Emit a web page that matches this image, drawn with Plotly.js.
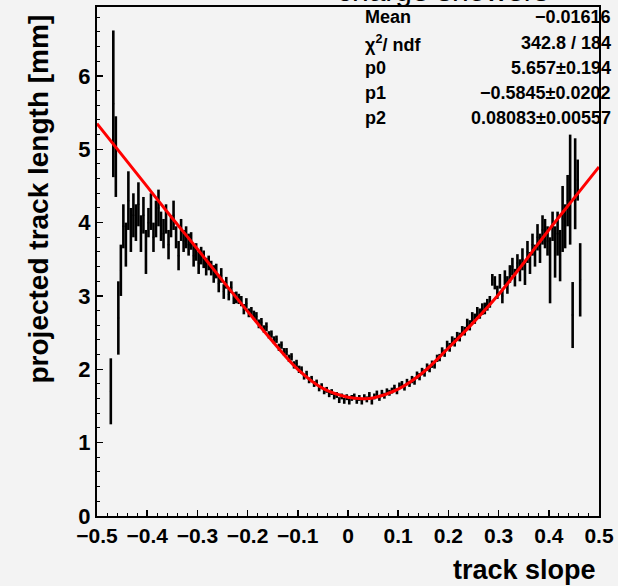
<!DOCTYPE html>
<html>
<head>
<meta charset="utf-8">
<script src="https://cdn.plot.ly/plotly-3.0.1.min.js"></script>
<style>
html,body{margin:0;padding:0;background:#f3f3f3;}
#chart{width:618px;height:586px;}
</style>
</head>
<body>
<div id="chart"></div>
<script>
// Profile histogram binning
const binStart = -0.4725;
const binWidth = 0.005;

// Profile bin means (projected track length, mm)
const profileMean = [
  1.70, 5.62, 4.90, 2.70, 3.35, 3.95, 3.70, 4.30, 3.90, 4.10,
  4.00, 4.25, 3.85, 4.10, 3.60, 4.00, 4.15, 3.80, 4.05, 4.20,
  3.95, 3.85, 4.05, 3.70, 3.95, 4.10, 3.80, 3.55, 3.90, 3.75,
  3.80, 3.70, 3.75, 3.55, 3.60, 3.45, 3.55, 3.50, 3.40, 3.45,
  3.38, 3.30, 3.34, 3.17, 3.28, 3.06, 3.18, 3.02, 3.12, 2.97,
  2.98, 2.96, 2.93, 2.82, 2.90, 2.77, 2.79, 2.74, 2.72, 2.62,
  2.64, 2.55, 2.58, 2.47, 2.48, 2.40, 2.41, 2.30, 2.33, 2.24,
  2.24, 2.15, 2.17, 2.06, 2.08, 2.00, 1.99, 1.90, 1.93, 1.85,
  1.87, 1.80, 1.82, 1.74, 1.77, 1.70, 1.72, 1.66, 1.69, 1.63,
  1.65, 1.58, 1.63, 1.57, 1.62, 1.56, 1.61, 1.63, 1.57, 1.61,
  1.56, 1.62, 1.59, 1.65, 1.56, 1.63, 1.67, 1.61, 1.68, 1.64,
  1.70, 1.68, 1.71, 1.75, 1.70, 1.78, 1.80, 1.75, 1.83, 1.80,
  1.86, 1.84, 1.92, 1.90, 1.97, 1.95, 2.03, 2.01, 2.07, 2.06,
  2.15, 2.16, 2.25, 2.22, 2.33, 2.30, 2.39, 2.37, 2.45, 2.44,
  2.53, 2.52, 2.63, 2.60, 2.71, 2.69, 2.78, 2.76, 2.82, 2.83,
  2.88, 2.92, 3.22, 3.18, 3.05, 3.20, 3.00, 3.25, 3.15, 3.30,
  3.40, 3.25, 3.45, 3.35, 3.50, 3.30, 3.60, 3.45, 3.70, 3.55,
  3.80, 3.65, 3.90, 3.85, 3.75, 3.35, 3.95, 3.60, 3.85, 3.55,
  4.05, 3.95, 4.30, 4.45, 2.74, 4.53, 4.58, 3.22
];

// Profile bin errors
const profileErr = [
  0.45, 1.00, 0.55, 0.50, 0.35, 0.30, 0.30, 0.40, 0.30, 0.30,
  0.25, 0.30, 0.25, 0.25, 0.30, 0.20, 0.25, 0.20, 0.25, 0.25,
  0.20, 0.20, 0.20, 0.20, 0.15, 0.20, 0.15, 0.20, 0.15, 0.15,
  0.15, 0.15, 0.12, 0.15, 0.12, 0.15, 0.12, 0.12, 0.12, 0.10,
  0.10, 0.12, 0.10, 0.12, 0.10, 0.10, 0.08, 0.08, 0.08, 0.08,
  0.08, 0.07, 0.07, 0.07, 0.07, 0.06, 0.06, 0.06, 0.06, 0.06,
  0.06, 0.05, 0.06, 0.05, 0.05, 0.05, 0.05, 0.05, 0.05, 0.05,
  0.05, 0.05, 0.05, 0.05, 0.05, 0.05, 0.05, 0.04, 0.05, 0.04,
  0.04, 0.04, 0.04, 0.04, 0.04, 0.04, 0.04, 0.04, 0.04, 0.04,
  0.04, 0.04, 0.04, 0.04, 0.04, 0.04, 0.04, 0.04, 0.04, 0.04,
  0.04, 0.04, 0.04, 0.04, 0.04, 0.04, 0.04, 0.04, 0.04, 0.04,
  0.04, 0.04, 0.04, 0.04, 0.04, 0.04, 0.04, 0.04, 0.04, 0.04,
  0.05, 0.05, 0.05, 0.05, 0.05, 0.05, 0.05, 0.05, 0.05, 0.05,
  0.05, 0.05, 0.05, 0.05, 0.06, 0.06, 0.06, 0.06, 0.06, 0.06,
  0.06, 0.06, 0.06, 0.07, 0.07, 0.07, 0.07, 0.07, 0.08, 0.08,
  0.08, 0.08, 0.08, 0.09, 0.09, 0.10, 0.10, 0.10, 0.12, 0.12,
  0.12, 0.12, 0.12, 0.15, 0.15, 0.15, 0.15, 0.15, 0.15, 0.15,
  0.18, 0.20, 0.20, 0.20, 0.20, 0.45, 0.20, 0.35, 0.30, 0.35,
  0.45, 0.30, 0.35, 0.75, 0.45, 0.62, 0.28, 0.50
];

// Fit curve
const fitX = [-0.5, -0.45, -0.4, -0.35, -0.3, -0.25, -0.2, -0.15, -0.1, -0.05, 0, 0.03, 0.05, 0.1, 0.15, 0.2, 0.25, 0.3, 0.35, 0.4, 0.45, 0.5];
const fitY = [5.35, 4.92, 4.49, 4.06, 3.64, 3.21, 2.79, 2.38, 2.00, 1.74, 1.62, 1.60, 1.61, 1.73, 1.96, 2.29, 2.64, 3.02, 3.45, 3.90, 4.33, 4.76];

// Stats box
const statLabels = ["Mean", "χ<sup>2</sup>/ ndf", "p0", "p1", "p2"];
const statValues = ["−0.01616", "342.8 / 184", "5.657±0.194", "−0.5845±0.0202", "0.08083±0.00557"];

const xTickVals = [-0.5, -0.4, -0.3, -0.2, -0.1, 0, 0.1, 0.2, 0.3, 0.4, 0.5];
const xTickText = ["−0.5", "−0.4", "−0.3", "−0.2", "−0.1", "0", "0.1", "0.2", "0.3", "0.4", "0.5"];

const binCenters = profileMean.map((_, i) => binStart + i * binWidth);

const FONT = "'Liberation Sans', Arial, Helvetica, sans-serif";

const traces = [
  {
    x: binCenters,
    y: profileMean,
    type: 'scatter',
    mode: 'markers',
    marker: {size: 2, color: 'black'},
    error_y: {type: 'data', array: profileErr, visible: true, color: 'black', thickness: 2.6, width: 0},
    hoverinfo: 'x+y',
    showlegend: false
  },
  {
    x: fitX,
    y: fitY,
    type: 'scatter',
    mode: 'lines',
    line: {color: '#ff0000', width: 3, shape: 'spline', smoothing: 1},
    showlegend: false
  }
];

const annotations = [];
const statY = [17, 43, 68, 93, 118];
const plotTop = 6.7, plotBottom = 516;
function pyToPaper(py) { return (plotBottom - py) / (plotBottom - plotTop); }
statLabels.forEach((t, i) => {
  annotations.push({
    text: t, xref: 'paper', yref: 'paper', x: 0.53, y: pyToPaper(statY[i]),
    xanchor: 'left', yanchor: 'middle', showarrow: false,
    font: {family: FONT, size: 18, color: 'black', weight: 'bold'}
  });
  annotations.push({
    text: statValues[i], xref: 'paper', yref: 'paper', x: 1.027, y: pyToPaper(statY[i]),
    xanchor: 'right', yanchor: 'middle', showarrow: false,
    font: {family: FONT, size: 18, color: 'black', weight: 'bold'}
  });
});
// title, mostly cut off at the top
annotations.push({
  text: 'charge showers', xref: 'paper', yref: 'paper', x: 0.69, y: 1,
  xanchor: 'center', yanchor: 'bottom', yshift: -2, showarrow: false,
  font: {family: FONT, size: 30, color: 'black'}
});
// axis titles
annotations.push({
  text: 'track slope', xref: 'paper', yref: 'paper', x: 1, y: 0,
  xanchor: 'right', yanchor: 'middle', xshift: -1, yshift: -54, showarrow: false,
  font: {family: FONT, size: 27, color: 'black', weight: 'bold'}
});
annotations.push({
  text: 'projected track length [mm]', xref: 'paper', yref: 'paper', x: 0, y: 1,
  xanchor: 'center', yanchor: 'top', xshift: -59, yshift: -6, textangle: -90, showarrow: false,
  font: {family: FONT, size: 28, color: 'black', weight: 'bold'}
});

const layout = {
  width: 618,
  height: 586,
  margin: {l: 97, r: 19, t: 7, b: 70},
  paper_bgcolor: '#f3f3f3',
  plot_bgcolor: '#f3f3f3',
  showlegend: false,
  xaxis: {
    range: [-0.5, 0.5],
    tickvals: xTickVals,
    ticktext: xTickText,
    ticks: 'inside',
    ticklen: 6,
    tickwidth: 1.5,
    tickcolor: 'black',
    minor: {dtick: 0.02, ticks: 'inside', ticklen: 3, tickcolor: 'black', tickwidth: 1},
    showline: true,
    linecolor: 'black',
    linewidth: 2,
    mirror: true,
    showgrid: false,
    zeroline: false,
    tickfont: {family: FONT, size: 21, color: 'black', weight: 'bold'}
  },
  yaxis: {
    range: [0, 6.94],
    dtick: 1,
    tick0: 0,
    ticks: 'inside',
    ticklen: 6,
    tickwidth: 1.5,
    tickcolor: 'black',
    minor: {dtick: 0.2, ticks: 'inside', ticklen: 3, tickcolor: 'black', tickwidth: 1},
    showline: true,
    linecolor: 'black',
    linewidth: 2,
    mirror: true,
    showgrid: false,
    zeroline: false,
    tickfont: {family: FONT, size: 22, color: 'black', weight: 'bold'}
  },
  annotations: annotations
};

Plotly.newPlot('chart', traces, layout, {staticPlot: true, displayModeBar: false});
</script>
</body>
</html>
